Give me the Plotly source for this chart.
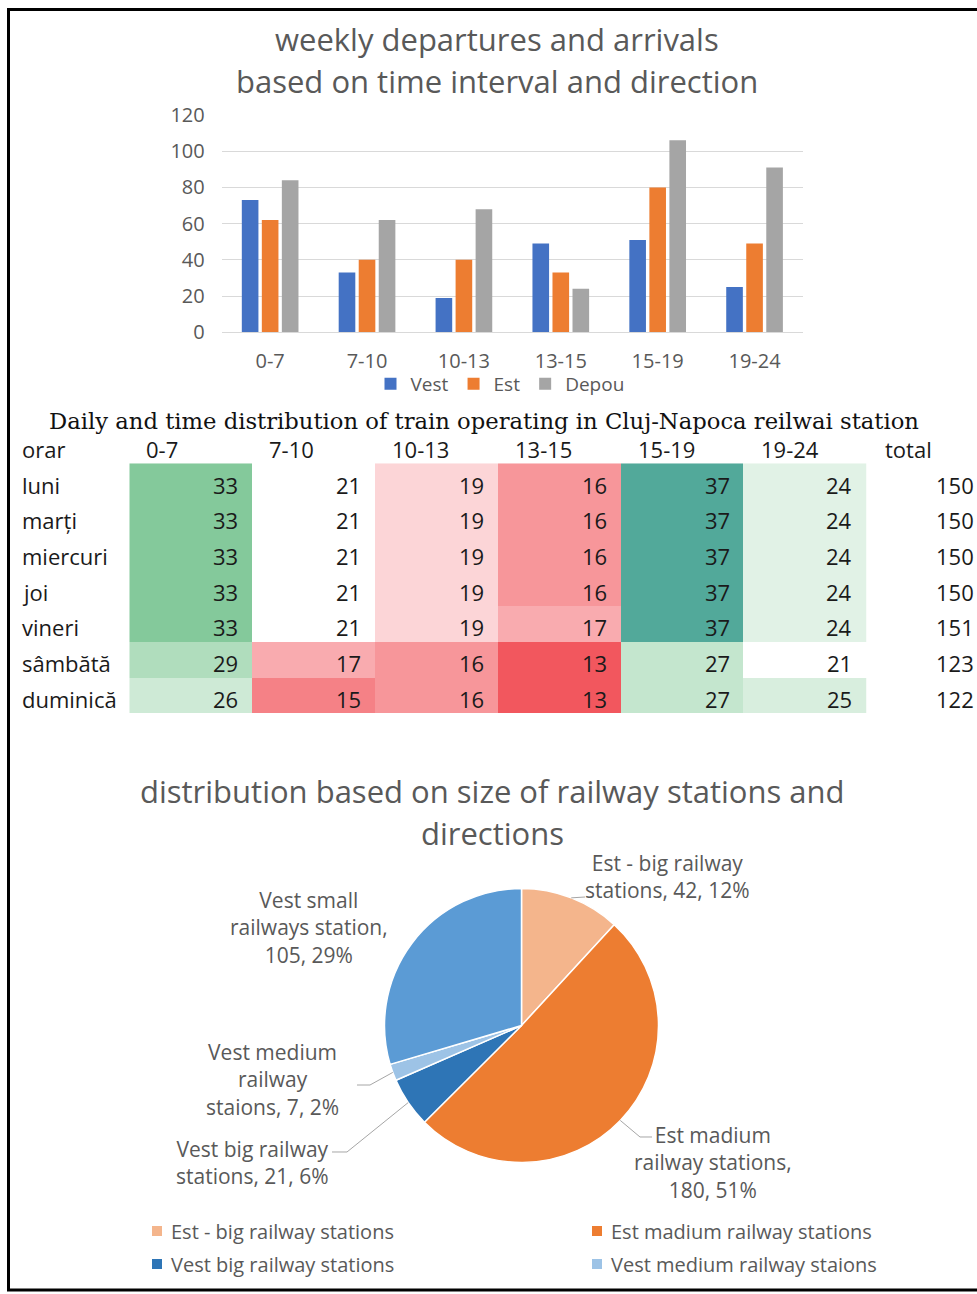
import math

import plotly.graph_objects as go

W, H = 977, 1294


def px(x):
    return x / W


def py(y):
    return 1 - y / H


# ---- weekly departures / arrivals per time interval ----
intervals = ["0-7", "7-10", "10-13", "13-15", "15-19", "19-24"]
vest = [73, 33, 19, 49, 51, 25]
est = [62, 40, 40, 33, 80, 49]
depou = [84, 62, 68, 24, 106, 91]

# ---- daily distribution table ----
days = ["luni", "marți", "miercuri", "joi", "vineri", "sâmbătă", "duminică"]
trains = [
    [33, 21, 19, 16, 37, 24],
    [33, 21, 19, 16, 37, 24],
    [33, 21, 19, 16, 37, 24],
    [33, 21, 19, 16, 37, 24],
    [33, 21, 19, 17, 37, 24],
    [29, 17, 16, 13, 27, 21],
    [26, 15, 16, 13, 27, 25],
]

# ---- station size distribution ----
station_groups = [
    "Est - big railway stations",
    "Est madium railway stations",
    "Vest big railway stations",
    "Vest medium railway staions",
    "Vest small railways station",
]
station_counts = [42, 180, 21, 7, 105]
station_pct = [12, 51, 6, 2, 29]

GREY = "#595959"
SANS = "Open Sans"

fig = go.Figure()

# grouped bars
for name, vals, col in [("Vest", vest, "#4472C4"), ("Est", est, "#ED7D31"), ("Depou", depou, "#A5A5A5")]:
    fig.add_trace(go.Bar(x=intervals, y=vals, name=name, marker_color=col,
                         marker_line_width=0, xaxis="x", yaxis="y"))

# heat-coloured table cells
flat = sorted(v for row in trains for v in row)
zmin, zmax = flat[0], flat[-1]
zmid = (flat[len(flat) // 2 - 1] + flat[len(flat) // 2]) / 2


def frac(v):
    return (v - zmin) / (zmax - zmin)


colorscale = [
    [0.0, "#F2575E"],
    [frac(zmid), "#FFFFFF"],
    [frac(29), "#B0DDBD"],
    [frac(33), "#84C99B"],
    [1.0, "#52A99A"],
]
fig.add_trace(go.Heatmap(z=trains, x=list(range(len(intervals))), y=list(range(len(days))),
                         colorscale=colorscale, zmin=zmin, zmax=zmax, showscale=False,
                         xgap=0, ygap=0, hoverinfo="skip", xaxis="x2", yaxis="y2"))

# pie
pie_colors = ["#F4B58C", "#ED7D31", "#2E75B6", "#9DC3E6", "#5B9BD5"]
cx, cy, rad = 521.5, 1025.5, 137
fig.add_trace(go.Pie(values=station_counts, labels=station_groups, sort=False,
                     direction="clockwise", rotation=0, textinfo="none",
                     marker=dict(colors=pie_colors, line=dict(color="white", width=1.5)),
                     domain=dict(x=[px(cx - rad), px(cx + rad)], y=[py(cy + rad), py(cy - rad)]),
                     showlegend=False, hoverinfo="label+value+percent"))

annotations = []
shapes = []


def note(x, y, text, size, color=GREY, xanchor="center", yanchor="middle", family=SANS,
         xref="paper", yref="paper", align="center"):
    annotations.append(dict(x=x, y=y, xref=xref, yref=yref, text=text, showarrow=False,
                            xanchor=xanchor, yanchor=yanchor, align=align,
                            font=dict(family=family, size=size, color=color)))


# chart titles
note(px(497), py(39), "weekly departures and arrivals", 31)
note(px(497), py(81), "based on time interval and direction", 31)
note(px(493), py(791), "distribution based on size of railway stations and", 31)
note(px(493), py(833), "directions", 31)

# table title, header, cells, totals
note(px(484), py(421), "Daily and time distribution of train operating in Cluj-Napoca reilwai station",
     22.7, color="#111111", family="DejaVu Serif")
TBL = "#1a1a1a"
col_left = [129.3 + 122.9 * c for c in range(len(intervals) + 1)]
note(px(20), py(449), "orar", 22, color=TBL, xanchor="left")
for c, lab in enumerate(intervals):
    note(px(col_left[c] + 15), py(449), lab, 22, color=TBL, xanchor="left")
note(px(col_left[-1] + 16), py(449), "total", 22, color=TBL, xanchor="left")
for r, (day, row) in enumerate(zip(days, trains)):
    note(px(20), r + 0.1, day, 22, color=TBL, xanchor="left", yref="y2")
    for c, v in enumerate(row):
        note(c + 0.4, r + 0.1, str(v), 22, color=TBL, xanchor="right", xref="x2", yref="y2")
    note(px(976), r + 0.1, str(sum(row)), 22, color=TBL, xanchor="right", yref="y2")

# pie data labels with leader lines
label_names = [
    "Est - big railway<br>stations",
    "Est madium<br>railway stations",
    "Vest big railway<br>stations",
    "Vest medium<br>railway<br>staions",
    "Vest small<br>railways station",
]
label_sep = [", ", ",<br>", ", ", ", ", ",<br>"]
label_pos = [(667, 876), (713, 1162), (252, 1162), (272, 1079), (309, 927)]
leader_ends = [[(585, 897)], [(640, 1137), (652, 1137)], [(347, 1152), (332, 1152)],
               [(370, 1085), (357, 1085)], None]

total = sum(station_counts)
cum = 0
for i, v in enumerate(station_counts):
    mid = (cum + v / 2) / total * 2 * math.pi
    cum += v
    lx, ly = label_pos[i]
    note(px(lx), py(ly), f"{label_names[i]}{label_sep[i]}{v}, {station_pct[i]}%", 21)
    if leader_ends[i]:
        tx, ty = cx + rad * math.sin(mid), cy - rad * math.cos(mid)
        pts = [(tx, ty)] + leader_ends[i]
        path = "M " + " L ".join(f"{px(a):.5f},{py(b):.5f}" for a, b in pts)
        shapes.append(dict(type="path", path=path, xref="paper", yref="paper",
                           line=dict(color="#A6A6A6", width=1)))

# pie legend (first four groups)
legend_slots = [(152, 1231), (592, 1231), (152, 1264), (592, 1264)]
for i, (lx, ly) in enumerate(legend_slots):
    shapes.append(dict(type="rect", xref="paper", yref="paper",
                       x0=px(lx), x1=px(lx + 10), y0=py(ly + 5), y1=py(ly - 5),
                       fillcolor=pie_colors[i], line_width=0))
    note(px(lx + 17), py(ly), station_groups[i], 20, xanchor="left")

# outer frame
shapes.append(dict(type="rect", xref="paper", yref="paper", x0=px(8.5), x1=px(995),
                   y0=py(1290), y1=py(9.5), line=dict(color="black", width=3),
                   fillcolor="rgba(0,0,0,0)"))

fig.update_layout(
    width=W, height=H, margin=dict(l=0, r=0, t=0, b=0, autoexpand=False),
    paper_bgcolor="white", plot_bgcolor="white",
    font=dict(family=SANS, color=GREY),
    barmode="group", bargap=0.38, bargroupgap=0.17,
    xaxis=dict(domain=[px(221.7), px(803)], showgrid=False, showline=True, linecolor="#D9D9D9",
               ticks="", tickfont=dict(size=20, color=GREY), ticklabelstandoff=11, fixedrange=True),
    yaxis=dict(domain=[py(332.3), py(115)], range=[0, 120], dtick=20, gridcolor="#D9D9D9",
               zeroline=False, showline=False, ticks="", tickfont=dict(size=20, color=GREY),
               ticklabelstandoff=16, fixedrange=True),
    xaxis2=dict(domain=[px(129.3), px(866.7)], range=[-0.5, 5.5], visible=False, anchor="y2"),
    yaxis2=dict(domain=[py(713), py(463.3)], range=[6.5, -0.5], visible=False, anchor="x2"),
    legend=dict(orientation="h", x=px(500), xanchor="center", y=py(384), yanchor="middle",
                font=dict(size=19, color=GREY), itemwidth=30, bgcolor="rgba(0,0,0,0)"),
    annotations=annotations, shapes=shapes,
)

fig.write_html("out.html")
